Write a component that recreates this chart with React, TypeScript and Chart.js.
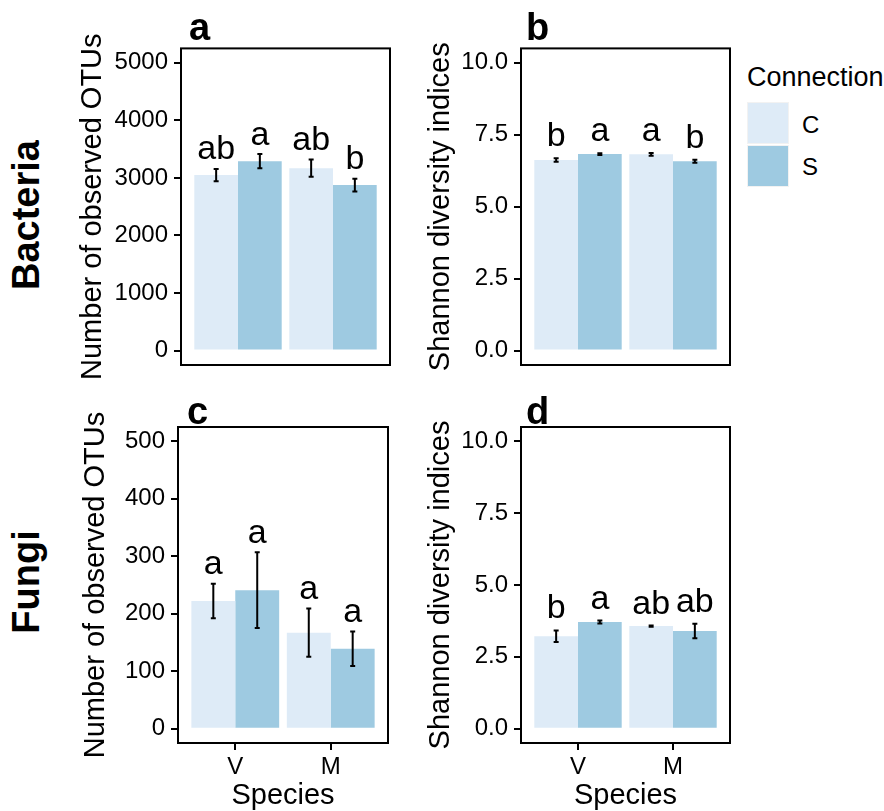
import React, { useEffect, useRef } from 'react';
import { Chart, registerables } from 'chart.js';

Chart.register(...registerables);

const FONT = "'Liberation Sans', Arial, Helvetica, sans-serif";
const COLOR_C = '#DEEBF7';
const COLOR_S = '#9ECAE1';

// ---- data ----
const species = ['V', 'M'];
const connection = ['C', 'S'];

// a: Bacteria, observed OTUs
const bacOtuC = [3050, 3170];
const bacOtuS = [3290, 2875];
const bacOtuCse = [107, 150];
const bacOtuSse = [124, 110];
const bacOtuLetC = ['ab', 'ab'];
const bacOtuLetS = ['a', 'b'];

// b: Bacteria, Shannon
const bacShC = [6.62, 6.82];
const bacShS = [6.83, 6.58];
const bacShCse = [0.06, 0.05];
const bacShSse = [0.03, 0.05];
const bacShLetC = ['b', 'a'];
const bacShLetS = ['a', 'b'];

// c: Fungi, observed OTUs
const funOtuC = [222, 167];
const funOtuS = [241, 139];
const funOtuCse = [30, 42];
const funOtuSse = [66, 30];
const funOtuLetC = ['a', 'a'];
const funOtuLetS = ['a', 'a'];

// d: Fungi, Shannon
const funShC = [3.22, 3.57];
const funShS = [3.71, 3.40];
const funShCse = [0.2, 0.02];
const funShSse = [0.05, 0.25];
const funShLetC = ['b', 'ab'];
const funShLetS = ['a', 'ab'];

const otuBacTicks = [0, 1000, 2000, 3000, 4000, 5000];
const otuFunTicks = [0, 100, 200, 300, 400, 500];
const shannonTicks = [0, 2.5, 5, 7.5, 10];

const TICK_SIZE = 24;
const TITLE_SIZE = 29;
const LETTER_SIZE = 34;

const makeDecor = (gap: number) => ({
  id: 'decor',
  afterDatasetsDraw(chart: any) {
    const ctx = chart.ctx;
    const ys = chart.scales.y;
    ctx.save();
    chart.data.datasets.forEach((ds: any, i: number) => {
      const meta = chart.getDatasetMeta(i);
      meta.data.forEach((el: any, j: number) => {
        const m = ds.data[j].y;
        const se = ds.errors[j];
        const x = el.x;
        const yt = ys.getPixelForValue(m + se);
        const yb = ys.getPixelForValue(m - se);
        ctx.strokeStyle = '#000';
        ctx.lineWidth = 2;
        ctx.beginPath();
        ctx.moveTo(x, yt);
        ctx.lineTo(x, yb);
        ctx.moveTo(x - 2.5, yt);
        ctx.lineTo(x + 2.5, yt);
        ctx.moveTo(x - 2.5, yb);
        ctx.lineTo(x + 2.5, yb);
        ctx.stroke();
        ctx.fillStyle = '#000';
        ctx.font = `${LETTER_SIZE}px ${FONT}`;
        ctx.textAlign = 'center';
        ctx.textBaseline = 'alphabetic';
        ctx.fillText(ds.letters[j], x, yt - gap);
      });
    });
    const a = chart.chartArea;
    ctx.strokeStyle = '#000';
    ctx.lineWidth = 2;
    ctx.strokeRect(a.left, a.top, a.right - a.left, a.bottom - a.top);
    ctx.restore();
  },
});

type PanelCfg = {
  left: number; top: number; width: number; height: number;
  yWidth: number; titlePad: number; xHeight: number;
  pad: { top: number; right: number; bottom: number; left: number };
  showX: boolean; yMin: number; yMax: number; ticks: number[];
  fmt: (v: number) => string; yTitle: string;
  C: number[]; S: number[]; Cse: number[]; Sse: number[]; Lc: string[]; Ls: string[];
  gap: number;
};

const panels: PanelCfg[] = [
  {
    left: 60, top: 28, width: 340, height: 358, yWidth: 121, titlePad: 16, xHeight: 0,
    pad: { top: 20, right: 10, bottom: 21, left: 0 }, showX: false,
    yMin: -250, yMax: 5250, ticks: otuBacTicks, fmt: (v) => String(v),
    yTitle: 'Number of observed OTUs',
    C: bacOtuC, S: bacOtuS, Cse: bacOtuCse, Sse: bacOtuSse, Lc: bacOtuLetC, Ls: bacOtuLetS, gap: 9.5,
  },
  {
    left: 400, top: 28, width: 340, height: 358, yWidth: 121, titlePad: 24, xHeight: 0,
    pad: { top: 20, right: 10, bottom: 21, left: 0 }, showX: false,
    yMin: -0.5, yMax: 10.5, ticks: shannonTicks, fmt: (v) => v.toFixed(1),
    yTitle: 'Shannon diversity indices',
    C: bacShC, S: bacShS, Cse: bacShCse, Sse: bacShSse, Lc: bacShLetC, Ls: bacShLetS, gap: 12,
  },
  {
    left: 60, top: 400, width: 340, height: 413, yWidth: 118, titlePad: 19, xHeight: 70,
    pad: { top: 27, right: 12, bottom: 0, left: 0 }, showX: true,
    yMin: -25, yMax: 525, ticks: otuFunTicks, fmt: (v) => String(v),
    yTitle: 'Number of observed OTUs',
    C: funOtuC, S: funOtuS, Cse: funOtuCse, Sse: funOtuSse, Lc: funOtuLetC, Ls: funOtuLetS, gap: 9.5,
  },
  {
    left: 400, top: 400, width: 340, height: 413, yWidth: 121, titlePad: 24, xHeight: 70,
    pad: { top: 27, right: 10, bottom: 0, left: 0 }, showX: true,
    yMin: -0.5, yMax: 10.5, ticks: shannonTicks, fmt: (v) => v.toFixed(1),
    yTitle: 'Shannon diversity indices',
    C: funShC, S: funShS, Cse: funShCse, Sse: funShSse, Lc: funShLetC, Ls: funShLetS, gap: 12,
  },
];

function Panel({ cfg }: { cfg: PanelCfg }) {
  const ref = useRef<HTMLCanvasElement | null>(null);
  useEffect(() => {
    if (!ref.current) return;
    const tickGrid = {
      display: true, drawOnChartArea: false, drawTicks: true, tickLength: 7,
      color: '#000', lineWidth: 2, offset: false,
    };
    const chart = new Chart(ref.current, {
      type: 'bar',
      data: {
        datasets: [
          {
            label: connection[0],
            data: cfg.C.map((y, i) => ({ x: i + 1, y })),
            backgroundColor: COLOR_C, borderWidth: 0,
            categoryPercentage: 0.92, barPercentage: 1,
            errors: cfg.Cse, letters: cfg.Lc,
          } as any,
          {
            label: connection[1],
            data: cfg.S.map((y, i) => ({ x: i + 1, y })),
            backgroundColor: COLOR_S, borderWidth: 0,
            categoryPercentage: 0.92, barPercentage: 1,
            errors: cfg.Sse, letters: cfg.Ls,
          } as any,
        ],
      },
      options: {
        responsive: false,
        maintainAspectRatio: false,
        animation: false,
        events: [],
        layout: { padding: cfg.pad },
        plugins: { legend: { display: false }, tooltip: { enabled: false } },
        scales: {
          x: {
            type: 'linear',
            min: 0.4, max: 2.6, offset: false,
            display: cfg.showX,
            afterBuildTicks: (s: any) => { s.ticks = species.map((_, i) => ({ value: i + 1 })); },
            afterFit: (s: any) => { if (cfg.showX) s.height = cfg.xHeight; },
            ticks: {
              autoSkip: false, maxRotation: 0, padding: 3, color: '#000',
              font: { size: TICK_SIZE, family: FONT },
              callback: (_v: any, i: number) => species[i],
            },
            grid: tickGrid as any,
            border: { display: false },
            title: {
              display: true, text: 'Species', color: '#000',
              font: { size: TITLE_SIZE, family: FONT }, padding: { top: 0, bottom: 0 },
            },
          },
          y: {
            type: 'linear',
            min: cfg.yMin, max: cfg.yMax,
            afterBuildTicks: (s: any) => { s.ticks = cfg.ticks.map((v) => ({ value: v })); },
            afterFit: (s: any) => { s.width = cfg.yWidth; },
            ticks: {
              padding: 6, color: '#000', font: { size: TICK_SIZE, family: FONT },
              callback: (v: any) => cfg.fmt(Number(v)),
            },
            grid: tickGrid as any,
            border: { display: false },
            title: {
              display: true, text: cfg.yTitle, color: '#000',
              font: { size: TITLE_SIZE, family: FONT }, padding: { top: cfg.titlePad, bottom: 0 },
            },
          },
        },
      } as any,
      plugins: [makeDecor(cfg.gap)],
    });
    return () => chart.destroy();
  }, [cfg]);
  return (
    <canvas
      ref={ref}
      width={cfg.width}
      height={cfg.height}
      style={{ position: 'absolute', left: cfg.left, top: cfg.top, width: cfg.width, height: cfg.height }}
    />
  );
}

const txt = (size: number, bold = false): React.CSSProperties => ({
  position: 'absolute',
  font: `${bold ? 'bold ' : ''}${size}px ${FONT}`,
  lineHeight: `${size}px`,
  whiteSpace: 'nowrap',
  color: '#000',
  pointerEvents: 'none',
});

export default function App() {
  return (
    <div style={{ position: 'absolute', left: 0, top: 0, width: 884, height: 811, background: '#fff', overflow: 'hidden' }}>
      {panels.map((p, i) => <Panel key={i} cfg={p} />)}

      {/* panel tags */}
      <div style={{ ...txt(38, true), left: 189, top: 8 }}>a</div>
      <div style={{ ...txt(38, true), left: 526, top: 8 }}>b</div>
      <div style={{ ...txt(38, true), left: 187, top: 392 }}>c</div>
      <div style={{ ...txt(38, true), left: 526, top: 392 }}>d</div>

      {/* row labels */}
      <div style={{ ...txt(38, true), left: 26, top: 215, transform: 'translate(-50%, -50%) rotate(-90deg)' }}>Bacteria</div>
      <div style={{ ...txt(38, true), left: 26, top: 582, transform: 'translate(-50%, -50%) rotate(-90deg)' }}>Fungi</div>

      {/* legend */}
      <div style={{ ...txt(27), left: 747, top: 64 }}>Connection</div>
      <div style={{ position: 'absolute', left: 748, top: 103, width: 40, height: 40, background: COLOR_C, boxShadow: '0 0 0 1px #f2f2f2' }} />
      <div style={{ position: 'absolute', left: 748, top: 146, width: 40, height: 40, background: COLOR_S, boxShadow: '0 0 0 1px #f2f2f2' }} />
      <div style={{ ...txt(24), left: 802, top: 113 }}>{connection[0]}</div>
      <div style={{ ...txt(24), left: 802, top: 155 }}>{connection[1]}</div>
    </div>
  );
}
